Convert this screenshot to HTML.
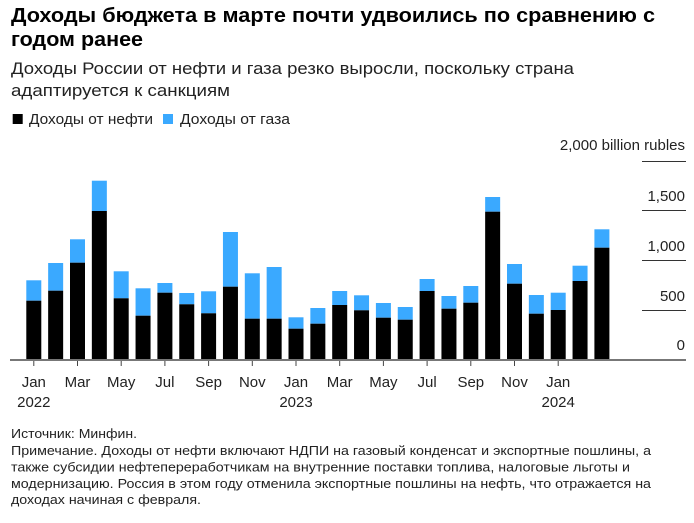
<!DOCTYPE html>
<html>
<head>
<meta charset="utf-8">
<style>
html,body{margin:0;padding:0;background:#fff;}
svg{display:block;}
text{font-family:"Liberation Sans","Noto Sans CJK SC",sans-serif;}
</style>
</head>
<body>
<svg width="694" height="523" viewBox="0 0 694 523" xmlns="http://www.w3.org/2000/svg">
<rect width="694" height="523" fill="#fff"/>
<!-- Title -->
<text x="11" y="22" font-size="20" font-weight="bold" fill="#000" textLength="644" lengthAdjust="spacingAndGlyphs">Доходы бюджета в марте почти удвоились по сравнению с</text>
<text x="11" y="46" font-size="20" font-weight="bold" fill="#000" textLength="132" lengthAdjust="spacingAndGlyphs">годом ранее</text>
<!-- Subtitle -->
<text x="11" y="74" font-size="17" fill="#222" textLength="563" lengthAdjust="spacingAndGlyphs">Доходы России от нефти и газа резко выросли, поскольку страна</text>
<text x="11" y="96" font-size="17" fill="#222" textLength="219" lengthAdjust="spacingAndGlyphs">адаптируется к санкциям</text>
<!-- Legend -->
<rect x="12.7" y="114" width="10" height="10" fill="#000"/>
<text x="29" y="124" font-size="14.5" fill="#222" textLength="124" lengthAdjust="spacingAndGlyphs">Доходы от нефти</text>
<rect x="163" y="114" width="10" height="10" fill="#3aa9ff"/>
<text x="180" y="124" font-size="14.5" fill="#222" textLength="110" lengthAdjust="spacingAndGlyphs">Доходы от газа</text>

<!-- Y axis labels and gridlines -->
<g font-size="15" fill="#222" text-anchor="end">
<text x="685" y="150">2,000 billion rubles</text>
<text x="685" y="201">1,500</text>
<text x="685" y="251">1,000</text>
<text x="685" y="301">500</text>
<text x="685" y="350">0</text>
</g>
<g stroke="#333" stroke-width="1">
<line x1="642" y1="161.5" x2="686" y2="161.5"/>
<line x1="642" y1="210.5" x2="686" y2="210.5"/>
<line x1="642" y1="260.5" x2="686" y2="260.5"/>
<line x1="642" y1="310.5" x2="686" y2="310.5"/>
</g>

<!-- Bars: gas (blue) -->
<g fill="#3aa9ff">
<rect x="26.30" y="280.3" width="15" height="20.4"/>
<rect x="48.15" y="263" width="15" height="27.7"/>
<rect x="70.00" y="239.3" width="15" height="23.4"/>
<rect x="91.85" y="180.7" width="15" height="30.3"/>
<rect x="113.70" y="271.3" width="15" height="27"/>
<rect x="135.55" y="288.3" width="15" height="27.4"/>
<rect x="157.40" y="283" width="15" height="9.7"/>
<rect x="179.25" y="293" width="15" height="11.3"/>
<rect x="201.10" y="291.3" width="15" height="22"/>
<rect x="222.95" y="232" width="15" height="54.7"/>
<rect x="244.80" y="273.3" width="15" height="45.4"/>
<rect x="266.65" y="267" width="15" height="51.7"/>
<rect x="288.50" y="317.3" width="15" height="11.4"/>
<rect x="310.35" y="308" width="15" height="15.7"/>
<rect x="332.20" y="291" width="15" height="14"/>
<rect x="354.05" y="295.3" width="15" height="15"/>
<rect x="375.90" y="303" width="15" height="14.7"/>
<rect x="397.75" y="307" width="15" height="12.7"/>
<rect x="419.60" y="279" width="15" height="12"/>
<rect x="441.45" y="296" width="15" height="12.7"/>
<rect x="463.30" y="286" width="15" height="16.7"/>
<rect x="485.15" y="197" width="15" height="14.7"/>
<rect x="507.00" y="264" width="15" height="19.7"/>
<rect x="528.85" y="295" width="15" height="18.7"/>
<rect x="550.70" y="292.7" width="15" height="17.3"/>
<rect x="572.55" y="265.7" width="15" height="15.3"/>
<rect x="594.40" y="229.3" width="15" height="18.4"/>
</g>
<!-- Bars: oil (black) -->
<g fill="#000">
<rect x="26.30" y="300.7" width="15" height="58.8"/>
<rect x="48.15" y="290.7" width="15" height="68.8"/>
<rect x="70.00" y="262.7" width="15" height="96.8"/>
<rect x="91.85" y="211" width="15" height="148.5"/>
<rect x="113.70" y="298.3" width="15" height="61.2"/>
<rect x="135.55" y="315.7" width="15" height="43.8"/>
<rect x="157.40" y="292.7" width="15" height="66.8"/>
<rect x="179.25" y="304.3" width="15" height="55.2"/>
<rect x="201.10" y="313.3" width="15" height="46.2"/>
<rect x="222.95" y="286.7" width="15" height="72.8"/>
<rect x="244.80" y="318.7" width="15" height="40.8"/>
<rect x="266.65" y="318.7" width="15" height="40.8"/>
<rect x="288.50" y="328.7" width="15" height="30.8"/>
<rect x="310.35" y="323.7" width="15" height="35.8"/>
<rect x="332.20" y="305" width="15" height="54.5"/>
<rect x="354.05" y="310.3" width="15" height="49.2"/>
<rect x="375.90" y="317.7" width="15" height="41.8"/>
<rect x="397.75" y="319.7" width="15" height="39.8"/>
<rect x="419.60" y="291" width="15" height="68.5"/>
<rect x="441.45" y="308.7" width="15" height="50.8"/>
<rect x="463.30" y="302.7" width="15" height="56.8"/>
<rect x="485.15" y="211.7" width="15" height="147.8"/>
<rect x="507.00" y="283.7" width="15" height="75.8"/>
<rect x="528.85" y="313.7" width="15" height="45.8"/>
<rect x="550.70" y="310" width="15" height="49.5"/>
<rect x="572.55" y="281" width="15" height="78.5"/>
<rect x="594.40" y="247.7" width="15" height="111.8"/>
</g>

<!-- Baseline -->
<line x1="10" y1="360" x2="686" y2="360" stroke="#777" stroke-width="2"/>
<!-- Ticks -->
<g stroke="#444" stroke-width="1">
<line x1="33.8" y1="361" x2="33.8" y2="366"/>
<line x1="77.5" y1="361" x2="77.5" y2="366"/>
<line x1="121.2" y1="361" x2="121.2" y2="366"/>
<line x1="164.9" y1="361" x2="164.9" y2="366"/>
<line x1="208.6" y1="361" x2="208.6" y2="366"/>
<line x1="252.3" y1="361" x2="252.3" y2="366"/>
<line x1="296" y1="361" x2="296" y2="366"/>
<line x1="339.7" y1="361" x2="339.7" y2="366"/>
<line x1="383.4" y1="361" x2="383.4" y2="366"/>
<line x1="427.1" y1="361" x2="427.1" y2="366"/>
<line x1="470.8" y1="361" x2="470.8" y2="366"/>
<line x1="514.5" y1="361" x2="514.5" y2="366"/>
<line x1="558.2" y1="361" x2="558.2" y2="366"/>
</g>
<!-- X labels -->
<g font-size="15" fill="#222" text-anchor="middle">
<text x="33.8" y="387">Jan</text>
<text x="77.5" y="387">Mar</text>
<text x="121.2" y="387">May</text>
<text x="164.9" y="387">Jul</text>
<text x="208.6" y="387">Sep</text>
<text x="252.3" y="387">Nov</text>
<text x="296" y="387">Jan</text>
<text x="339.7" y="387">Mar</text>
<text x="383.4" y="387">May</text>
<text x="427.1" y="387">Jul</text>
<text x="470.8" y="387">Sep</text>
<text x="514.5" y="387">Nov</text>
<text x="558.2" y="387">Jan</text>
<text x="33.8" y="407">2022</text>
<text x="296" y="407">2023</text>
<text x="558.2" y="407">2024</text>
</g>

<!-- Footnotes -->
<g font-size="13" fill="#222">
<text x="11" y="438" textLength="126" lengthAdjust="spacingAndGlyphs">Источник: Минфин.</text>
<text x="11" y="455" textLength="640" lengthAdjust="spacingAndGlyphs">Примечание. Доходы от нефти включают НДПИ на газовый конденсат и экспортные пошлины, а</text>
<text x="11" y="471.5" textLength="619" lengthAdjust="spacingAndGlyphs">также субсидии нефтепереработчикам на внутренние поставки топлива, налоговые льготы и</text>
<text x="11" y="488" textLength="640" lengthAdjust="spacingAndGlyphs">модернизацию. Россия в этом году отменила экспортные пошлины на нефть, что отражается на</text>
<text x="11" y="504" textLength="190" lengthAdjust="spacingAndGlyphs">доходах начиная с февраля.</text>
</g>
</svg>
</body>
</html>
